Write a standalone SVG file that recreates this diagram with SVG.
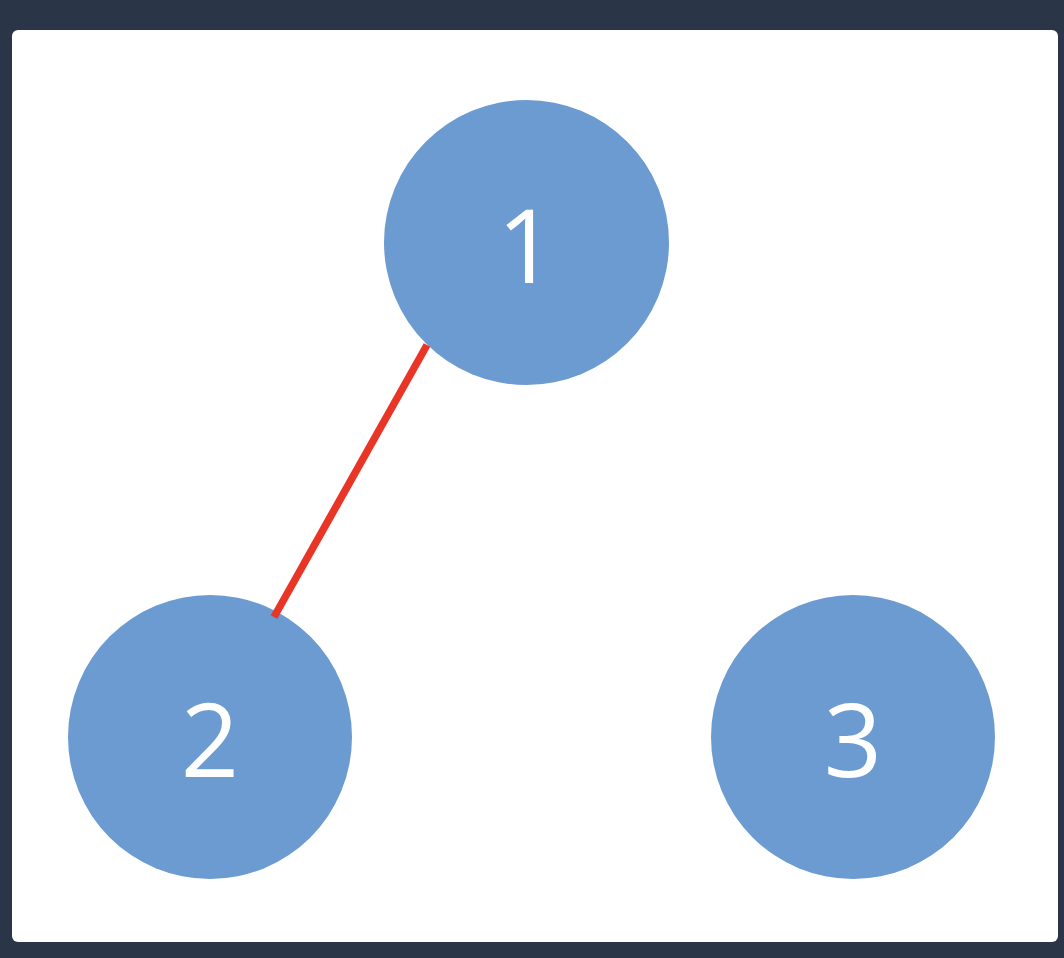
<svg xmlns="http://www.w3.org/2000/svg" width="1064" height="958" viewBox="0 0 1064 958">
<style>
.node circle{fill:#6b9bd1}
.node text{fill:#ffffff;font-family:"Open Sans","Noto Sans","DejaVu Sans",sans-serif;font-size:102px;font-weight:370;text-anchor:middle}
.edge{stroke:#e93526;stroke-width:7.5;stroke-linecap:butt;fill:none}
</style>
<rect x="0" y="0" width="1064" height="958" fill="#2a3648"/>
<rect x="12" y="30" width="1046" height="912" rx="6" ry="6" fill="#ffffff"/>
<g id="node-1" class="node"><circle cx="526.5" cy="242.5" r="142.5"/><text x="526.5" y="283">1</text></g>
<g id="node-2" class="node"><circle cx="210" cy="737" r="142"/><text x="210" y="777">2</text></g>
<g id="node-3" class="node"><circle cx="853" cy="737" r="142"/><text x="853" y="777">3</text></g>
<g id="connectors"><line class="edge" x1="427" y1="345" x2="274" y2="617"/></g>
</svg>
